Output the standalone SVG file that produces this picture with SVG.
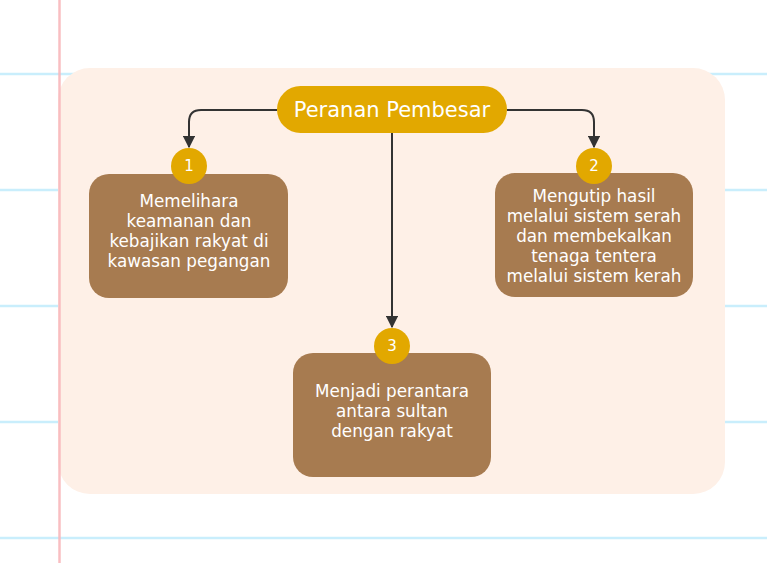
<svg xmlns="http://www.w3.org/2000/svg" width="767" height="563" viewBox="0 0 767 563">
<style>
.rule{stroke:#C9EEFC;stroke-width:2.5}
.box{fill:#A77B50}
.badge{fill:#E2A800}
.t{font-family:"DejaVu Sans","Open Sans",sans-serif;font-size:16.8px;fill:#FFFFFF;text-anchor:middle}
.num{font-family:"DejaVu Sans","Open Sans",sans-serif;font-size:15px;fill:#FFFFFF;text-anchor:middle}
.conn{fill:none;stroke:#333333;stroke-width:2}
</style>
<defs>
<marker id="arr" viewBox="0 0 10 10" refX="9" refY="5" markerWidth="6.3" markerHeight="6.3" orient="auto" markerUnits="strokeWidth">
<path d="M0,0 L10,5 L0,10 z" fill="#333333"/>
</marker>
</defs>
<rect width="767" height="563" fill="#FFFFFF"/>
<g id="paper">
<line class="rule" x1="0" y1="74" x2="767" y2="74"/>
<line class="rule" x1="0" y1="190" x2="767" y2="190"/>
<line class="rule" x1="0" y1="306" x2="767" y2="306"/>
<line class="rule" x1="0" y1="422" x2="767" y2="422"/>
<line class="rule" x1="0" y1="538" x2="767" y2="538"/>
<rect x="58" y="68" width="667" height="426" rx="32" fill="#FEF0E7"/>
<line x1="59.5" y1="0" x2="59.5" y2="563" stroke="#F9B8BC" stroke-width="2.5" opacity="0.9"/>
</g>
<g id="connectors">
<path class="conn" d="M277,110 H201 Q189,110 189,122 V147" marker-end="url(#arr)"/>
<path class="conn" d="M507,110 H582 Q594,110 594,122 V147" marker-end="url(#arr)"/>
<path class="conn" d="M392,133 V327" marker-end="url(#arr)"/>
</g>
<g id="title">
<rect x="277" y="86" width="230" height="47" rx="23.5" fill="#E2A800"/>
<text x="392" y="117" font-family="'DejaVu Sans','Open Sans',sans-serif" font-size="21" fill="#FFFFFF" text-anchor="middle">Peranan Pembesar</text>
</g>
<g id="node1">
<rect class="box" x="89" y="174" width="199" height="124" rx="20"/>
<circle class="badge" cx="189" cy="166" r="18"/>
<text class="num" x="189" y="171">1</text>
<text class="t" x="189" y="207">Memelihara</text>
<text class="t" x="189" y="227">keamanan dan</text>
<text class="t" x="189" y="247">kebajikan rakyat di</text>
<text class="t" x="189" y="267">kawasan pegangan</text>
</g>
<g id="node2">
<rect class="box" x="495" y="173" width="198" height="124" rx="20"/>
<circle class="badge" cx="594" cy="166" r="18"/>
<text class="num" x="594" y="171">2</text>
<text class="t" x="594" y="202">Mengutip hasil</text>
<text class="t" x="594" y="222">melalui sistem serah</text>
<text class="t" x="594" y="242">dan membekalkan</text>
<text class="t" x="594" y="262">tenaga tentera</text>
<text class="t" x="594" y="282">melalui sistem kerah</text>
</g>
<g id="node3">
<rect class="box" x="293" y="353" width="198" height="124" rx="20"/>
<circle class="badge" cx="392" cy="346" r="18"/>
<text class="num" x="392" y="351">3</text>
<text class="t" x="392" y="397">Menjadi perantara</text>
<text class="t" x="392" y="417">antara sultan</text>
<text class="t" x="392" y="437">dengan rakyat</text>
</g>
</svg>
